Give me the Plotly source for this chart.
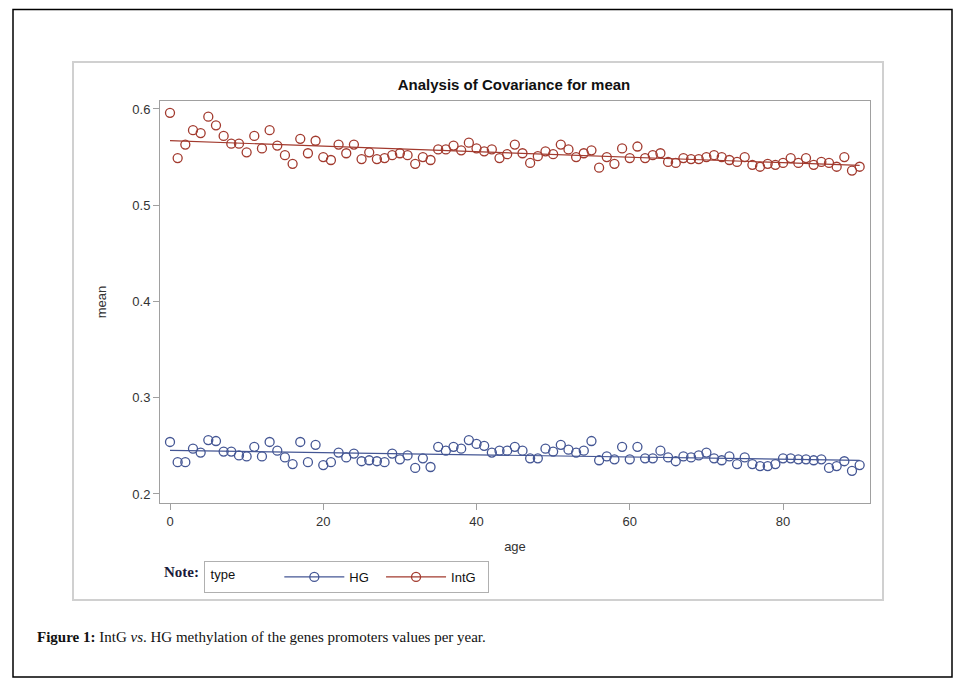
import numpy as np
import plotly.graph_objects as go

ages = list(range(0, 91))

intg_mean = [0.596, 0.549, 0.563, 0.578, 0.575, 0.592, 0.583, 0.572, 0.564, 0.564,
             0.555, 0.572, 0.559, 0.578, 0.562, 0.552, 0.543, 0.569, 0.554, 0.567,
             0.550, 0.547, 0.563, 0.554, 0.563, 0.548, 0.555, 0.548, 0.549, 0.552,
             0.554, 0.552, 0.543, 0.550, 0.547, 0.558, 0.558, 0.562, 0.557, 0.565,
             0.559, 0.556, 0.558, 0.549, 0.553, 0.563, 0.554, 0.544, 0.551, 0.556,
             0.553, 0.563, 0.558, 0.550, 0.554, 0.557, 0.539, 0.550, 0.543, 0.559,
             0.549, 0.561, 0.549, 0.552, 0.554, 0.545, 0.544, 0.549, 0.548, 0.548,
             0.550, 0.552, 0.550, 0.547, 0.545, 0.550, 0.542, 0.540, 0.543, 0.542,
             0.544, 0.549, 0.544, 0.549, 0.542, 0.545, 0.544, 0.540, 0.550, 0.536,
             0.540]

hg_mean = [0.254, 0.233, 0.233, 0.247, 0.243, 0.256, 0.255, 0.244, 0.244, 0.240,
           0.239, 0.249, 0.239, 0.254, 0.245, 0.238, 0.231, 0.254, 0.233, 0.251,
           0.230, 0.233, 0.243, 0.238, 0.242, 0.234, 0.235, 0.234, 0.233, 0.242,
           0.236, 0.240, 0.227, 0.237, 0.228, 0.249, 0.245, 0.249, 0.247, 0.256,
           0.252, 0.250, 0.243, 0.245, 0.245, 0.249, 0.245, 0.237, 0.237, 0.247,
           0.244, 0.251, 0.246, 0.243, 0.245, 0.255, 0.235, 0.239, 0.236, 0.249,
           0.236, 0.249, 0.237, 0.237, 0.245, 0.238, 0.234, 0.239, 0.238, 0.240,
           0.243, 0.237, 0.235, 0.239, 0.231, 0.238, 0.231, 0.229, 0.229, 0.231,
           0.237, 0.237, 0.236, 0.236, 0.235, 0.236, 0.227, 0.229, 0.234, 0.224,
           0.230]

x_ticks = [0, 20, 40, 60, 80]
y_ticks = [0.2, 0.3, 0.4, 0.5, 0.6]

HG_COLOR = "#445694"
INTG_COLOR = "#A23A2E"

# the page body has an 8px margin; work in screen pixels and shift
OFF = 8
W, H = 967 - OFF, 686 - OFF
PL, PR, PT, PB = 160 - OFF, 870 - OFF, 101 - OFF, 503 - OFF


def px_x(px):
    return (px - OFF - PL) / (PR - PL)


def px_y(py):
    return (PB - (py - OFF)) / (PB - PT)


fig = go.Figure()

for name, vals, col in [("HG", hg_mean, HG_COLOR), ("IntG", intg_mean, INTG_COLOR)]:
    a = np.array(ages, dtype=float)
    v = np.array(vals)
    slope, icpt = np.polyfit(a, v, 1)
    fit = icpt + slope * a
    fig.add_trace(go.Scatter(x=ages, y=fit.tolist(), mode="lines",
                             line=dict(color=col, width=1.2), showlegend=False,
                             hoverinfo="skip"))
    fig.add_trace(go.Scatter(x=ages, y=vals, mode="markers",
                             marker=dict(symbol="circle-open", size=9,
                                         color=col, line=dict(width=1.3, color=col)),
                             showlegend=False, name=name))
    fig.add_trace(go.Scatter(x=[None], y=[None], mode="lines+markers", name=name + "  ",
                             line=dict(color=col, width=1.2),
                             marker=dict(symbol="circle-open", size=9,
                                         color=col, line=dict(width=1.3, color=col))))

fig.update_layout(
    width=W, height=H,
    margin=dict(l=PL, r=W - PR, t=PT, b=H - PB, pad=0),
    paper_bgcolor="white", plot_bgcolor="white",
    font=dict(family="Liberation Sans, Arial, sans-serif", size=12, color="#333333"),
    title=dict(text="<b>Analysis of Covariance for mean</b>", x=(514 - OFF) / W, xanchor="center",
               y=1 - (85 - OFF) / H, yanchor="middle",
               font=dict(family="Liberation Sans, Arial, sans-serif", size=15, color="#111111")),
    xaxis=dict(range=[-1.305, 91.35], tickvals=x_ticks, ticks="outside", ticklen=6,
               tickcolor="#a0a0a0", showgrid=False, zeroline=False, showline=True,
               linecolor="#a0a0a0", linewidth=1, mirror=True,
               title=dict(text="age", standoff=14, font=dict(size=13, color="#333333")),
               tickfont=dict(size=13, color="#333333")),
    yaxis=dict(range=[0.1906, 0.6083], tickvals=y_ticks, ticktext=["0.2", "0.3", "0.4", "0.5", "0.6"],
               ticks="outside", ticklen=6,
               tickcolor="#a0a0a0", showgrid=False, zeroline=False, showline=True,
               linecolor="#a0a0a0", linewidth=1, mirror=True,
               title=dict(text="mean", standoff=22, font=dict(size=13, color="#333333")),
               tickfont=dict(size=13, color="#333333")),
    legend=dict(orientation="h", x=px_x(204), y=px_y(561), xanchor="left", yanchor="top",
                bordercolor="#b0b0b0", borderwidth=1, bgcolor="white",
                title=dict(text=" type          ", font=dict(size=13, color="#111111")),
                font=dict(size=13, color="#111111"), itemwidth=60,
                tracegroupgap=0),
    showlegend=True,
)

shapes = [
    dict(type="rect", xref="paper", yref="paper", x0=px_x(13), x1=px_x(952),
         y0=px_y(677), y1=px_y(9.5), line=dict(color="black", width=1.5), layer="below"),
    dict(type="rect", xref="paper", yref="paper", x0=px_x(73), x1=px_x(883),
         y0=px_y(600), y1=px_y(62), line=dict(color="#d0d0d0", width=2), layer="below"),
]
fig.update_layout(shapes=shapes)

fig.add_annotation(text="<b>Note:</b>", xref="paper", yref="paper", x=px_x(162), y=px_y(572),
                   xanchor="left", yanchor="middle", showarrow=False,
                   font=dict(family="Liberation Serif, DejaVu Serif, serif", size=15, color="#1a1a3a"))
fig.add_annotation(text="<b>Figure 1:</b> IntG <i>vs</i>. HG methylation of the genes promoters values per year.",
                   xref="paper", yref="paper", x=px_x(35), y=px_y(637),
                   xanchor="left", yanchor="middle", showarrow=False,
                   font=dict(family="Liberation Serif, DejaVu Serif, serif", size=15, color="#111111"))

fig.write_html("out.html")
